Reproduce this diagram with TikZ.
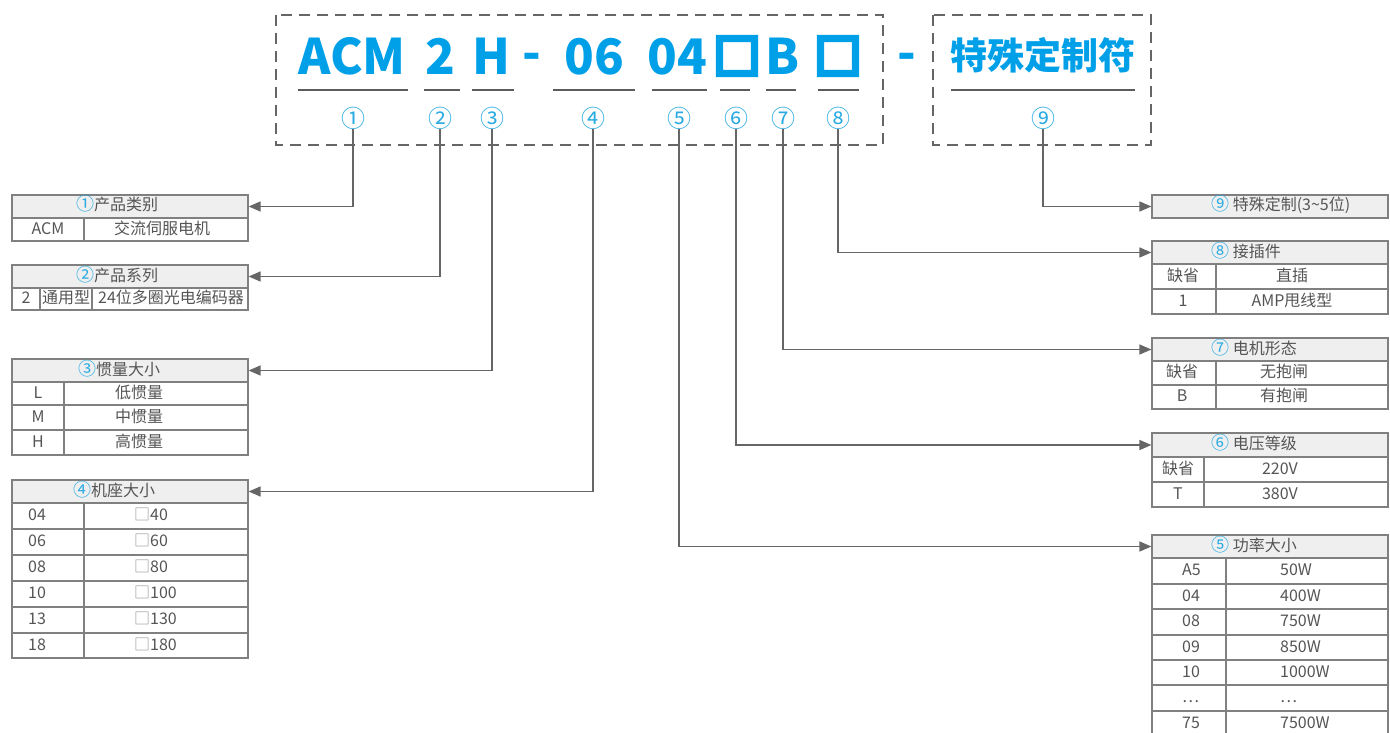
\documentclass[tikz,border=0pt]{standalone}
\usepackage{fontspec}
\setmainfont{Noto Sans CJK SC}
\newfontfamily\sqfont{Noto Sans CJK SC}[FakeBold=12]
\usetikzlibrary{arrows.meta}
\definecolor{bigblue}{RGB}{0,160,233}
\definecolor{cblue}{RGB}{41,171,226}
\definecolor{lgray}{RGB}{128,128,128}
\definecolor{tgray}{RGB}{85,85,85}
\definecolor{hfill}{RGB}{239,239,239}
\definecolor{cgray}{RGB}{102,102,102}
\definecolor{sqgray}{RGB}{150,150,150}
\newcommand\cellbox[6][rc]{\node[#1,minimum width={(#5)-(#3)},minimum height={(#6)-(#4)}] (#2) at ({((#3)+(#5))/2},{((#4)+(#6))/2}) {};}
\newcommand\cn[1]{{\color{cblue}\fontsize{18}{18}\selectfont#1}}
\newcommand\sq{{\color{sqgray}□}}
\begin{document}
\begin{tikzpicture}[x=1pt,y=-1pt,
  rc/.style={draw=lgray,line width=1.2pt,fill=white,inner sep=0pt},
  hc/.style={rc,fill=hfill},
  tx/.style={text=tgray,font=\fontsize{16}{18}\selectfont,inner sep=0pt,text height=12pt,text depth=3pt},
  big/.style={text=bigblue,font=\fontsize{49}{50}\selectfont\bfseries,inner sep=0pt,anchor=base},
  bigcjk/.style={text=bigblue,font=\fontsize{37}{40}\selectfont\bfseries,inner sep=0pt},
  bigsq/.style={text=bigblue,font=\fontsize{46}{48}\selectfont\sqfont,inner sep=0pt},
  num/.style={text=cblue,font=\fontsize{24}{24}\selectfont,inner sep=0pt},
  uline/.style={draw=cgray!90!black,line width=1.6pt},
  dbox/.style={draw=cgray,line width=1.6pt,dash pattern=on 11pt off 7pt},
  conn/.style={draw=cgray,line width=1.5pt,-{Triangle[length=12pt,width=10pt]}}
]
\useasboundingbox (0,0) rectangle (1390,733);
\fill[white] (0,0) rectangle (1390,733);

% dashed frames
\draw[dbox] (276,15) rectangle (883,145);
\draw[dbox] (933,15) rectangle (1151,145);

% big code
\node[big] (bACM) at (352,75) {ACM};
\node[big] (b2) at (440,75) {2};
\node[big] (bH) at (491,75) {H};
\node[big] (bd1) at (532,71) {-};
\node[big] (b06) at (594,75) {06};
\node[big] (b04) at (677,75) {04};
\node[bigsq] (bs1) at (737,56) {□};
\node[big] (bB) at (783,75) {B};
\node[bigsq] (bs2) at (838,56) {□};
\node[big] (bd2) at (907,71) {-};
\node[bigcjk] (bT) at (1043,55) {特殊定制符};

% underlines
\draw[uline] (298,90) -- (408,90);
\draw[uline] (424,90) -- (460,90);
\draw[uline] (472,90) -- (514,90);
\draw[uline] (553,90) -- (635,90);
\draw[uline] (652,90) -- (707,90);
\draw[uline] (720,90) -- (750,90);
\draw[uline] (766,90) -- (796,90);
\draw[uline] (818,90) -- (859,90);
\draw[uline] (951,90) -- (1135,90);

% circled numbers
\node[num] (n1) at (353,118) {①};
\node[num] (n2) at (440,118) {②};
\node[num] (n3) at (492,118) {③};
\node[num] (n4) at (593,118) {④};
\node[num] (n5) at (679,118) {⑤};
\node[num] (n6) at (736,118) {⑥};
\node[num] (n7) at (783,118) {⑦};
\node[num] (n8) at (838,118) {⑧};
\node[num] (n9) at (1043,118) {⑨};

% ---------- left tables ----------
% T1
\cellbox[hc]{h1}{12}{195}{248}{218}
\cellbox{t1a}{12}{218}{84}{241}
\cellbox{t1b}{84}{218}{248}{241}
\node[tx,anchor=west] (l1) at (76,206.5) {\cn{①}产品类别};
\node[tx] (l1a) at (48,229.5) {ACM};
\node[tx] (l1b) at (162,229.5) {交流伺服电机};
% T2
\cellbox[hc]{h2}{12}{265}{248}{288}
\cellbox{t2a}{12}{288}{40}{310}
\cellbox{t2b}{40}{288}{92}{310}
\cellbox{t2c}{92}{288}{248}{310}
\node[tx,anchor=west] (l2) at (76,276.5) {\cn{②}产品系列};
\node[tx] (l2a) at (26,299) {2};
\node[tx] (l2b) at (66,299) {通用型};
\node[tx] (l2c) at (171,299) {24位多圈光电编码器};
% T3
\cellbox[hc]{h3}{12}{359}{248}{382}
\cellbox{t3a}{12}{382}{64}{405}
\cellbox{t3b}{64}{382}{248}{405}
\cellbox{t3c}{12}{405}{64}{430}
\cellbox{t3d}{64}{405}{248}{430}
\cellbox{t3e}{12}{430}{64}{455}
\cellbox{t3f}{64}{430}{248}{455}
\node[tx,anchor=west] (l3) at (78,370.5) {\cn{③}惯量大小};
\node[tx] (l3a) at (38,393.5) {L};
\node[tx] (l3b) at (139,393.5) {低惯量};
\node[tx] (l3c) at (38,417.5) {M};
\node[tx] (l3d) at (139,417.5) {中惯量};
\node[tx] (l3e) at (38,442.5) {H};
\node[tx] (l3f) at (139,442.5) {高惯量};
% T4
\cellbox[hc]{h4}{12}{480}{248}{503}
\foreach \ya/\yb/\k/\v [count=\i] in {503/529/04/40,529/555/06/60,555/581/08/80,581/607/10/100,607/633/13/130,633/658/18/180}{
  \cellbox{t4a\i}{12}{\ya}{84}{\yb}
  \cellbox{t4b\i}{84}{\ya}{248}{\yb}
  \node[tx,anchor=west] (l4a\i) at (28,{(\ya+\yb)/2}) {\k};
  \node[tx,anchor=west] (l4b\i) at (134,{(\ya+\yb)/2}) {\sq\v};
}
\node[tx,anchor=west] (l4) at (73,491.5) {\cn{④}机座大小};

% ---------- right tables ----------
% T9
\cellbox[hc]{h9}{1152}{195}{1388}{218}
\node[tx,anchor=west] (l9) at (1211,206.5) {\cn{⑨} 特殊定制(3\textasciitilde5位)};
% T8
\cellbox[hc]{h8}{1152}{241}{1388}{264}
\cellbox{t8a}{1152}{264}{1216}{289}
\cellbox{t8b}{1216}{264}{1388}{289}
\cellbox{t8c}{1152}{289}{1216}{314}
\cellbox{t8d}{1216}{289}{1388}{314}
\node[tx,anchor=west] (l8) at (1211,252.5) {\cn{⑧} 接插件};
\node[tx] (l8a) at (1183,276.5) {缺省};
\node[tx] (l8b) at (1292,276.5) {直插};
\node[tx] (l8c) at (1183,301.5) {1};
\node[tx] (l8d) at (1292,301.5) {AMP甩线型};
% T7
\cellbox[hc]{h7}{1152}{338}{1388}{361}
\cellbox{t7a}{1152}{361}{1216}{385}
\cellbox{t7b}{1216}{361}{1388}{385}
\cellbox{t7c}{1152}{385}{1216}{409}
\cellbox{t7d}{1216}{385}{1388}{409}
\node[tx,anchor=west] (l7) at (1211,349.5) {\cn{⑦} 电机形态};
\node[tx] (l7a) at (1182,373) {缺省};
\node[tx] (l7b) at (1284,373) {无抱闸};
\node[tx] (l7c) at (1182,397) {B};
\node[tx] (l7d) at (1284,397) {有抱闸};
% T6
\cellbox[hc]{h6}{1152}{433}{1388}{457}
\cellbox{t6a}{1152}{457}{1204}{482}
\cellbox{t6b}{1204}{457}{1388}{482}
\cellbox{t6c}{1152}{482}{1204}{507}
\cellbox{t6d}{1204}{482}{1388}{507}
\node[tx,anchor=west] (l6) at (1211,445) {\cn{⑥} 电压等级};
\node[tx] (l6a) at (1178,469.5) {缺省};
\node[tx] (l6b) at (1280,469.5) {220V};
\node[tx] (l6c) at (1178,494.5) {T};
\node[tx] (l6d) at (1280,494.5) {380V};
% T5
\cellbox[hc]{h5}{1152}{535}{1388}{558}
\foreach \ya/\yb/\k/\v [count=\i] in {558/584/A5/50W,584/609/04/400W,609/635/08/750W,635/660/09/850W,660/685/10/1000W,685/711/…/…,711/737/75/7500W}{
  \cellbox{t5a\i}{1152}{\ya}{1226}{\yb}
  \cellbox{t5b\i}{1226}{\ya}{1388}{\yb}
  \node[tx,anchor=west] (l5a\i) at (1182,{(\ya+\yb)/2}) {\k};
  \node[tx,anchor=west] (l5b\i) at (1280,{(\ya+\yb)/2}) {\v};
}
\node[tx,anchor=west] (l5) at (1211,546.5) {\cn{⑤} 功率大小};

% ---------- connectors ----------
\draw[conn] (n1.south) |- (h1.east);
\draw[conn] (n2.south) |- (h2.east);
\draw[conn] (n3.south) |- (h3.east);
\draw[conn] (n4.south) |- (h4.east);
\draw[conn] (n5.south) |- (h5.west);
\draw[conn] (n6.south) |- (h6.west);
\draw[conn] (n7.south) |- (h7.west);
\draw[conn] (n8.south) |- (h8.west);
\draw[conn] (n9.south) |- (h9.west);
\end{tikzpicture}
\end{document}
